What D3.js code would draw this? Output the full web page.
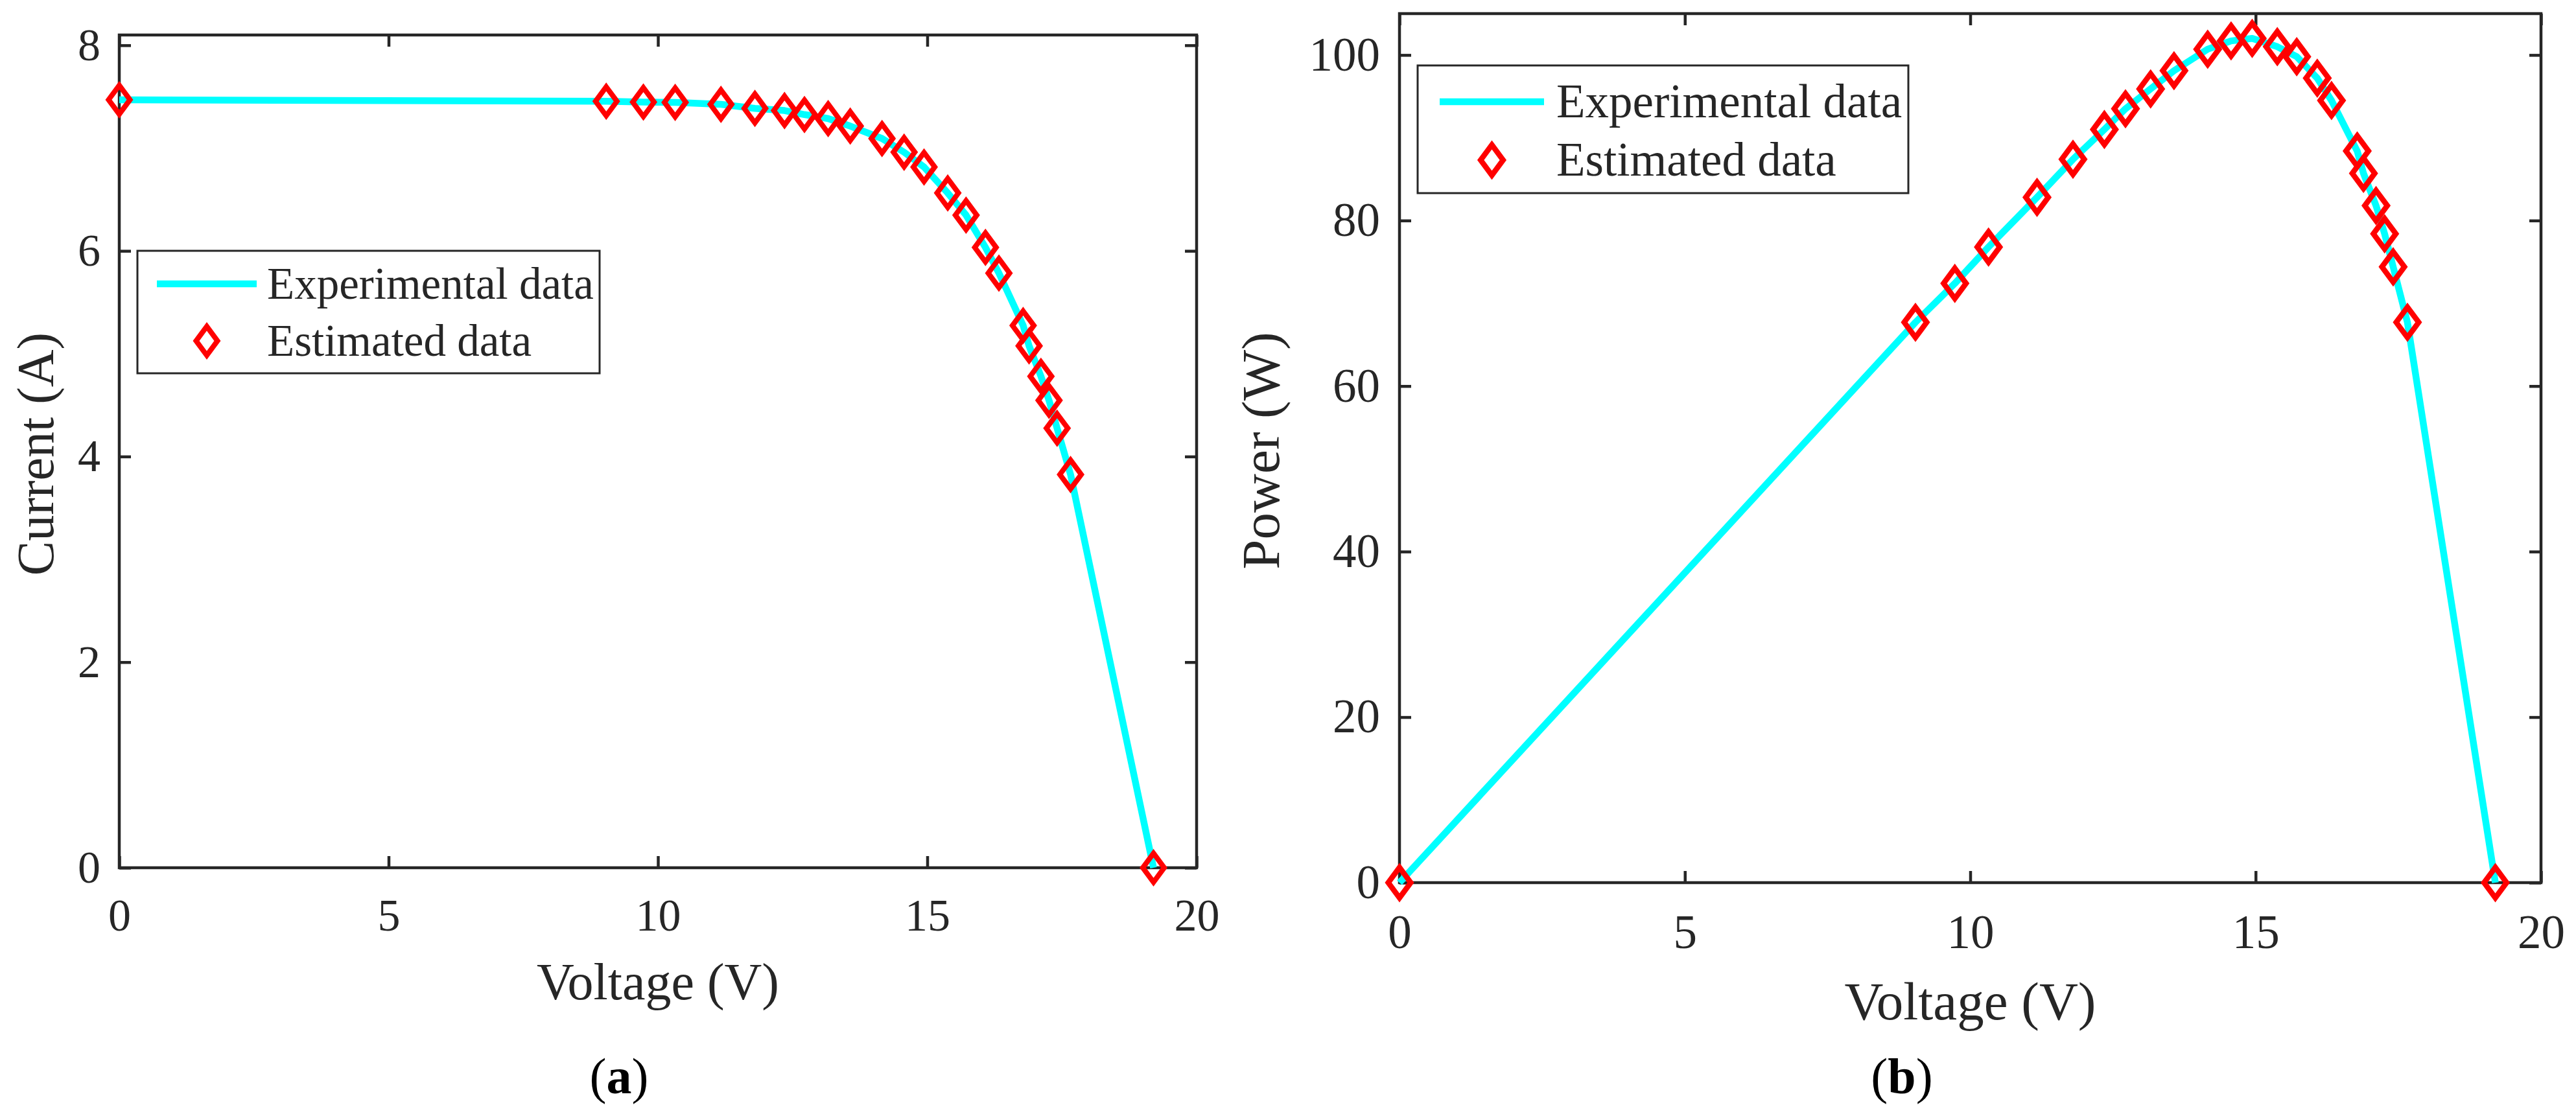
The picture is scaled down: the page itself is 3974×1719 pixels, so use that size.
<!DOCTYPE html>
<html>
<head>
<meta charset="utf-8">
<script src="https://cdn.jsdelivr.net/npm/d3@7"></script>
<style>
  body { margin: 0; background: #fff; }
  svg { display: block; font-family: "Liberation Serif", "Times New Roman", serif; }
  .axis text { fill: #262626; font-family: "Liberation Serif", "Times New Roman", serif; }
  .axis line { stroke: #262626; }
  .axis path.domain { display: none; }
</style>
</head>
<body>
<svg id="chart" width="3974" height="1719"></svg>
<script>
// values
const voltage    = [0, 9.04, 9.73, 10.32, 11.17, 11.80, 12.35, 12.72, 13.16, 13.57, 14.16, 14.57,
                    14.94, 15.38, 15.72, 16.08, 16.33, 16.78, 16.89, 17.11, 17.26, 17.41, 17.66, 19.20];
const currentExp = [7.47, 7.455, 7.447, 7.445, 7.425, 7.386, 7.365, 7.326, 7.287, 7.214, 7.093, 6.96,
                    6.816, 6.563, 6.348, 6.034, 5.784, 5.274, 5.076, 4.78, 4.546, 4.275, 3.825, 0];
const currentEst = [7.47, 7.455, 7.447, 7.445, 7.425, 7.386, 7.365, 7.326, 7.287, 7.214, 7.093, 6.96,
                    6.816, 6.563, 6.348, 6.034, 5.784, 5.274, 5.076, 4.78, 4.546, 4.275, 3.825, 0];
const powerExp   = [0, 67.7, 72.4, 76.8, 82.8, 87.4, 91.0, 93.5, 95.9, 98.1, 100.7, 101.7,
                    102.0, 101.0, 99.8, 97.2, 94.5, 88.4, 85.7, 81.8, 78.4, 74.4, 67.7, 0];
const powerEst   = [0, 67.7, 72.4, 76.8, 82.8, 87.4, 91.0, 93.5, 95.9, 98.1, 100.7, 101.7,
                    102.0, 101.0, 99.8, 97.2, 94.5, 88.4, 85.7, 81.8, 78.4, 74.4, 67.7, 0];

const voltageTicks = [0, 5, 10, 15, 20];
const currentTicks = [0, 2, 4, 6, 8];
const powerTicks = [0, 20, 40, 60, 80, 100];
const legendLabels = ["Experimental data", "Estimated data"];

const INK = "#262626";
const svg = d3.select("#chart");

const panels = [
    {
        tag: "a", yLabel: "Current (A)", yMax: 8.1, yTicks: currentTicks,
        exp: currentExp, est: currentEst,
        left: 184, right: 1846, top: 54, bottom: 1339,
        tickFont: 70, tickPad: 47, yTickPad: 29, labelFont: 80,
        xTitleY: 1542, yTitleX: 82, tagX: 955, tagY: 1687, k: 1,
        legend: { x: 212, y: 387, w: 713, h: 189, x0: 242, x1: 396, tx: 412, row: 438, gap: 88, font: 69 }
    },
    {
        tag: "b", yLabel: "Power (W)", yMax: 105, yTicks: powerTicks,
        exp: powerExp, est: powerEst,
        left: 2159, right: 3920, top: 21, bottom: 1362,
        tickFont: 73, tickPad: 49, yTickPad: 30, labelFont: 83,
        xTitleY: 1573, yTitleX: 1973, tagX: 2934, tagY: 1687, k: 1.05,
        legend: { x: 2187, y: 101, w: 757, h: 197, x0: 2221, x1: 2382, tx: 2401, row: 157, gap: 90, font: 73 }
    }
];

function diamond(k) {
    const a = 16.5 * k, b = 22.3 * k;
    return `M0,${-b}L${a},0L0,${b}L${-a},0Z`;
}

// d3 axes put a sans-serif 10px font on the group; undo that
function styleAxis(g, size) {
    g.attr("font-family", null).attr("font-size", size);
    g.selectAll("text").attr("font-size", size);
    g.selectAll("line").attr("stroke-width", 4.5);
}

panels.forEach(p => {
    const x = d3.scaleLinear().domain([0, 20]).range([p.left, p.right]);
    const y = d3.scaleLinear().domain([0, p.yMax]).range([p.bottom, p.top]);
    const tick = 18;

    // axes with inward ticks on all four sides
    svg.append("g").attr("class", "axis")
        .attr("transform", `translate(0,${p.bottom})`)
        .call(d3.axisBottom(x).tickValues(voltageTicks).tickSizeInner(-tick).tickSizeOuter(0).tickPadding(p.tickPad))
        .call(styleAxis, p.tickFont);
    svg.append("g").attr("class", "axis")
        .attr("transform", `translate(0,${p.top})`)
        .call(d3.axisTop(x).tickValues(voltageTicks).tickSizeInner(-tick).tickSizeOuter(0).tickFormat(""))
        .call(styleAxis, p.tickFont);
    svg.append("g").attr("class", "axis")
        .attr("transform", `translate(${p.left},0)`)
        .call(d3.axisLeft(y).tickValues(p.yTicks).tickSizeInner(-tick).tickSizeOuter(0).tickPadding(p.yTickPad))
        .call(styleAxis, p.tickFont);
    svg.append("g").attr("class", "axis")
        .attr("transform", `translate(${p.right},0)`)
        .call(d3.axisRight(y).tickValues(p.yTicks).tickSizeInner(-tick).tickSizeOuter(0).tickFormat(""))
        .call(styleAxis, p.tickFont);

    svg.append("rect")
        .attr("x", p.left).attr("y", p.top)
        .attr("width", p.right - p.left).attr("height", p.bottom - p.top)
        .attr("fill", "none").attr("stroke", INK).attr("stroke-width", 4.5);

    // experimental curve
    const line = d3.line().x((d, i) => x(voltage[i])).y(d => y(d));
    svg.append("path")
        .datum(p.exp)
        .attr("d", line)
        .attr("fill", "none")
        .attr("stroke", "#00ffff")
        .attr("stroke-width", 10.5)
        .attr("stroke-linejoin", "round");

    // estimated markers
    svg.append("g").selectAll("path")
        .data(p.est)
        .join("path")
            .attr("transform", (d, i) => `translate(${x(voltage[i])},${y(d)})`)
            .attr("d", diamond(p.k))
            .attr("fill", "none")
            .attr("stroke", "#ff0000")
            .attr("stroke-width", 8 * p.k)
            .attr("stroke-linejoin", "miter");

    // axis titles
    svg.append("text")
        .attr("x", (p.left + p.right) / 2).attr("y", p.xTitleY)
        .attr("text-anchor", "middle").attr("font-size", p.labelFont).attr("fill", INK)
        .text("Voltage (V)");
    svg.append("text")
        .attr("transform", `translate(${p.yTitleX},${(p.top + p.bottom) / 2 + 4}) rotate(-90)`)
        .attr("text-anchor", "middle").attr("font-size", p.labelFont).attr("fill", INK)
        .text(p.yLabel);

    // legend
    const L = p.legend;
    const lg = svg.append("g");
    lg.append("rect")
        .attr("x", L.x).attr("y", L.y).attr("width", L.w).attr("height", L.h)
        .attr("fill", "#fff").attr("stroke", INK).attr("stroke-width", 3);
    lg.append("line")
        .attr("x1", L.x0).attr("x2", L.x1).attr("y1", L.row).attr("y2", L.row)
        .attr("stroke", "#00ffff").attr("stroke-width", 10.5);
    lg.append("path")
        .attr("transform", `translate(${(L.x0 + L.x1) / 2},${L.row + L.gap})`)
        .attr("d", diamond(p.k))
        .attr("fill", "none").attr("stroke", "#ff0000").attr("stroke-width", 8 * p.k);
    lg.selectAll("text.entry")
        .data(legendLabels)
        .join("text")
            .attr("class", "entry")
            .attr("x", L.tx)
            .attr("y", (d, i) => L.row + i * L.gap)
            .attr("dy", "0.33em")
            .attr("font-size", L.font).attr("fill", INK)
            .text(d => d);

    // sub-figure tag
    const t = svg.append("text")
        .attr("x", p.tagX).attr("y", p.tagY)
        .attr("text-anchor", "middle").attr("font-size", 78).attr("fill", "#000");
    t.append("tspan").text("(");
    t.append("tspan").attr("font-weight", "bold").text(p.tag);
    t.append("tspan").text(")");
});
</script>
</body>
</html>
